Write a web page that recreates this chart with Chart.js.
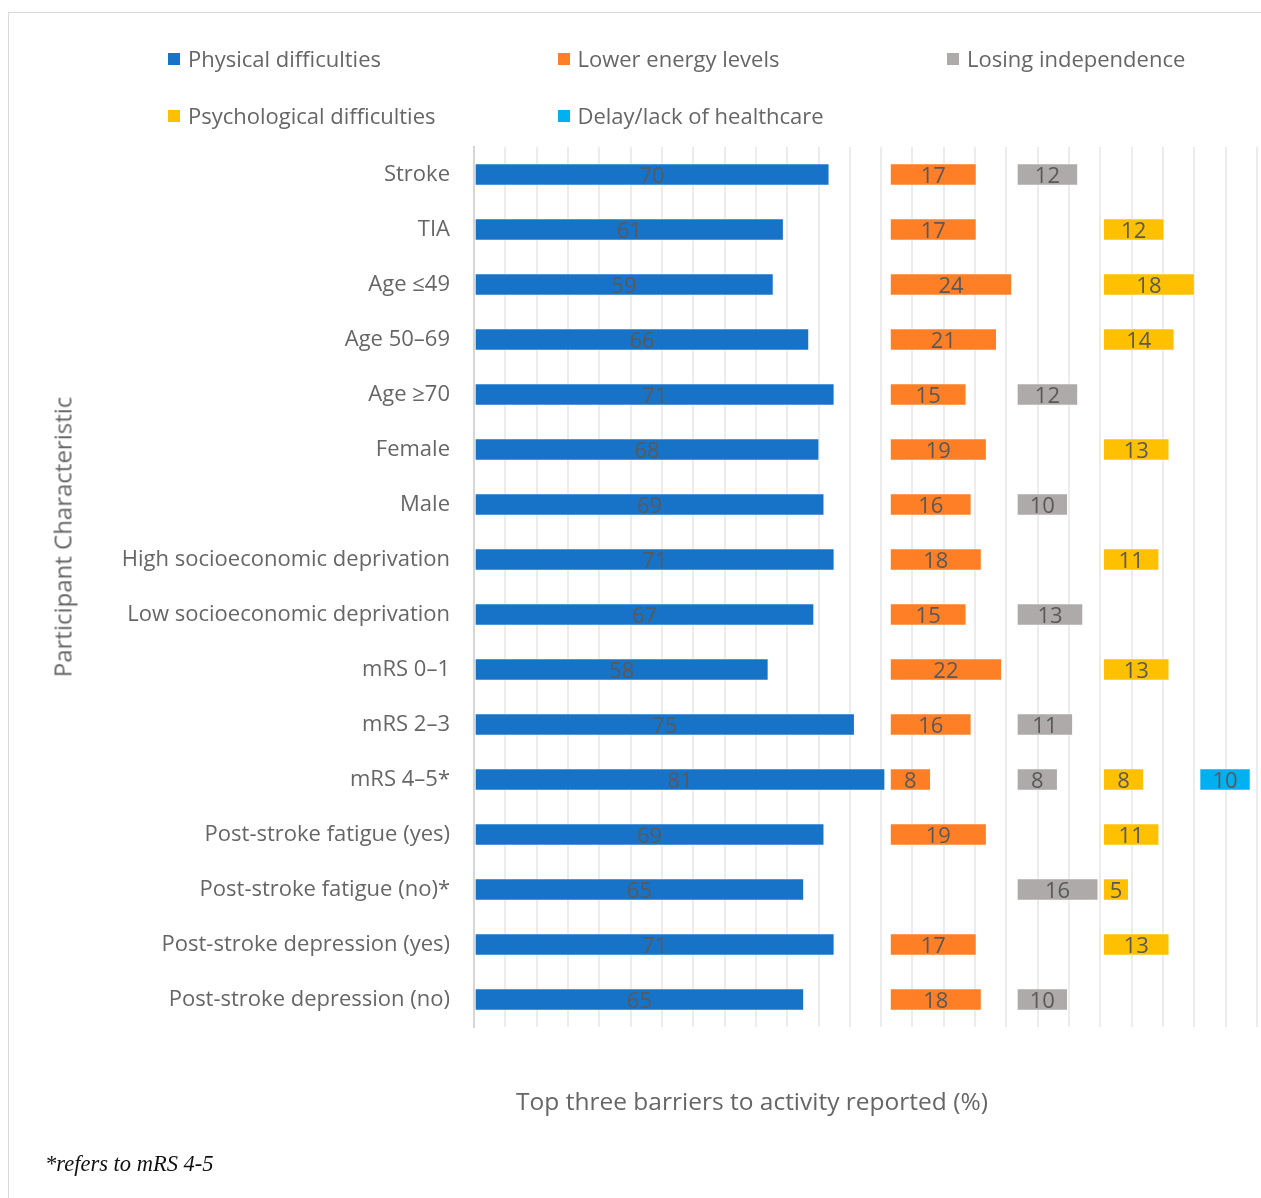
<!DOCTYPE html>
<html>
<head>
<meta charset="utf-8">
<script src="https://cdn.jsdelivr.net/npm/chart.js@4/dist/chart.umd.min.js"></script>
<style>
  body { margin: 0; background: #fff; }
  #wrap { position: relative; width: 1261px; height: 1198px; overflow: hidden; }
  #frame { position: absolute; left: 8px; top: 12px; width: 1260px; height: 1250px; border: 1.5px solid #d9d9d9; box-sizing: border-box; }
  canvas { position: absolute; left: 0; top: 0; }
  .leg { position: absolute; font-family: "Open Sans", sans-serif; font-size: 22px; color: #666; white-space: nowrap; line-height: 24px; }
  .leg span.box { display: inline-block; width: 12px; height: 12px; margin-right: 8px; vertical-align: 2px; }
  #ytitle { position: absolute; left: 62px; top: 537px; transform: translate(-50%, -50%) rotate(-90deg); font-family: "Open Sans", sans-serif; font-size: 24px; color: #666; white-space: nowrap; }
  #xtitle { position: absolute; left: 752px; top: 1100px; transform: translate(-50%, -50%); font-family: "Open Sans", sans-serif; font-size: 24.5px; color: #666; white-space: nowrap; }
  #note { position: absolute; left: 45px; top: 1151px; font-family: "Liberation Serif", serif; font-style: italic; font-size: 22.5px; color: #111; }
</style>
</head>
<body>
<div id="wrap">
  <div id="frame"></div>
  <canvas id="myChart" width="1261" height="1198"></canvas>
  <div id="legend"></div>
  <div id="ytitle">Participant Characteristic</div>
  <div id="xtitle">Top three barriers to activity reported (%)</div>
  <div id="note">*refers to mRS 4-5</div>
</div>
<script>
// categories, top to bottom
const categories = ['Stroke', 'TIA', 'Age ≤49', 'Age 50–69', 'Age ≥70', 'Female', 'Male',
  'High socioeconomic deprivation', 'Low socioeconomic deprivation', 'mRS 0–1', 'mRS 2–3',
  'mRS 4–5*', 'Post-stroke fatigue (yes)', 'Post-stroke fatigue (no)*',
  'Post-stroke depression (yes)', 'Post-stroke depression (no)'];

const physical      = [70, 61, 59, 66, 71, 68, 69, 71, 67, 58, 75, 81, 69, 65, 71, 65];
const lowerEnergy   = [17, 17, 24, 21, 15, 19, 16, 18, 15, 22, 16, 8, 19, null, 17, 18];
const losingIndep   = [12, null, null, null, 12, null, 10, null, 13, null, 11, 8, null, 16, null, 10];
const psychological = [null, 12, 18, 14, null, 13, null, 11, null, 13, null, 8, 11, 5, 13, null];
const delayCare     = [null, null, null, null, null, null, null, null, null, null, null, 10, null, null, null, null];

const seriesNames  = ['Physical difficulties', 'Lower energy levels', 'Losing independence',
  'Psychological difficulties', 'Delay/lack of healthcare'];
const seriesValues = [physical, lowerEnergy, losingIndep, psychological, delayCare];
const seriesColors = ['#1773c8', '#ff7f27', '#aeaaaa', '#ffc000', '#00b0f0'];
// where each barrier's column starts on the % axis
const panelStart   = [0, 82, 107, 124, 143];

const datasets = seriesValues.map(function (vals, i) {
  return {
    label: seriesNames[i],
    data: vals.map(v => v == null ? null : [panelStart[i], panelStart[i] + v]),
    backgroundColor: seriesColors[i],
    borderColor: 'rgba(255,255,255,0.35)',
    borderWidth: 1,
    borderSkipped: false,
    grouped: false,
    barThickness: 22
  };
});

// value labels in the middle of each bar
const barLabels = {
  id: 'barLabels',
  afterDatasetsDraw(chart) {
    const c = chart.ctx;
    c.save();
    c.font = '22px "Open Sans", sans-serif';
    c.fillStyle = '#595959';
    c.textAlign = 'center';
    c.textBaseline = 'middle';
    chart.data.datasets.forEach(function (ds, di) {
      chart.getDatasetMeta(di).data.forEach(function (bar, k) {
        const raw = ds.data[k];
        if (!raw) return;
        c.fillText(String(raw[1] - raw[0]), (bar.x + bar.base) / 2, bar.y + 2);
      });
    });
    c.restore();
  }
};

const ctx = document.getElementById('myChart').getContext('2d');
const myChart = new Chart(ctx, {
  type: 'bar',
  data: { labels: categories, datasets: datasets },
  plugins: [barLabels],
  options: {
    indexAxis: 'y',
    responsive: false,
    animation: false,
    devicePixelRatio: 1,
    layout: { padding: { top: 147, bottom: 171, right: 4, left: 0 } },
    plugins: { legend: { display: false }, tooltip: { enabled: false } },
    scales: {
      x: {
        min: 0,
        max: 154.3,
        ticks: { display: false, count: 26 },
        grid: { color: '#ececec', lineWidth: 2, drawTicks: false },
        border: { display: false },
        afterFit(scale) { scale.height = 0; }
      },
      y: {
        ticks: { font: { family: 'Open Sans', size: 22 }, color: '#666', padding: 24 },
        grid: { display: false, drawTicks: false },
        border: { display: true, color: '#d6d6d6', width: 2 },
        afterFit(scale) { scale.width = 474; }
      }
    }
  }
});

// legend laid out in a 3-column grid like the original
const legend = document.getElementById('legend');
seriesNames.forEach(function (name, i) {
  const d = document.createElement('div');
  d.className = 'leg';
  d.style.left = (168 + (i % 3) * 389.5) + 'px';
  d.style.top = (46 + Math.floor(i / 3) * 57) + 'px';
  d.innerHTML = '<span class="box" style="background:' + seriesColors[i] + '"></span>' + name;
  legend.appendChild(d);
});
</script>
</body>
</html>
